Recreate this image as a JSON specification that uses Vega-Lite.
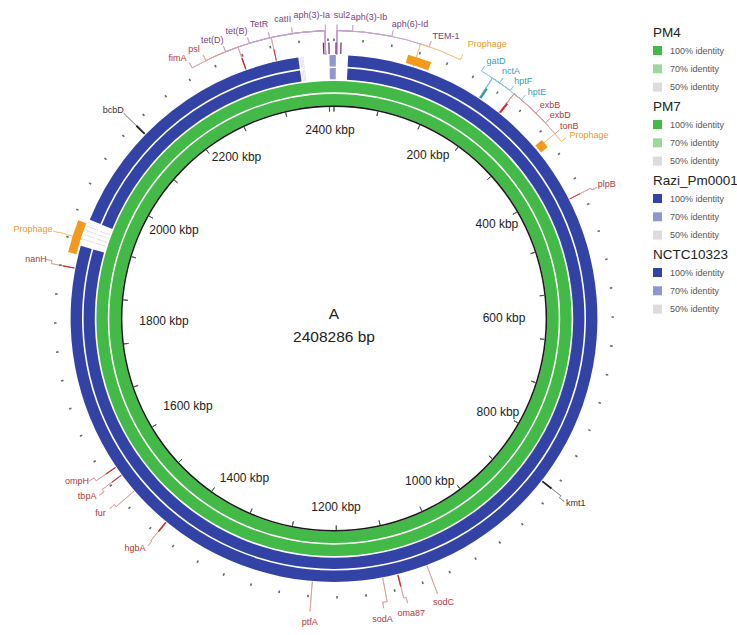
{
  "$schema": "https://vega.github.io/schema/vega-lite/v6.json",
  "width": 668,
  "height": 637,
  "autosize": "none",
  "padding": {"left": 0, "top": 0, "right": 69, "bottom": 0},
  "background": "white",
  "config": {
    "view": {"stroke": null},
    "font": "Liberation Sans",
    "legend": {
      "symbolType": "square",
      "symbolSize": 81,
      "symbolStrokeWidth": 0,
      "labelFontSize": 9,
      "labelColor": "#555555",
      "labelFont": "Liberation Sans",
      "titleFont": "Liberation Sans",
      "titleFontSize": 13.5,
      "titleFontWeight": "normal",
      "titleColor": "#222222",
      "titleBaseline": "top",
      "titleAnchor": "start",
      "titleLimit": 200,
      "titlePadding": 7,
      "rowPadding": 8.3,
      "labelOffset": 8,
      "padding": 0,
      "offset": 0
    }
  },
  "datasets": {
    "rings": [
      {"ring": "PM4", "start": 0, "end": 2408.286, "identity": "100% identity"},
      {"ring": "PM7", "start": 0, "end": 2408.286, "identity": "100% identity"},
      {"ring": "Razi_Pm0001", "start": 20.7, "end": 1913.3, "identity": "100% identity"},
      {"ring": "Razi_Pm0001", "start": 1953.4, "end": 2356.1, "identity": "100% identity"},
      {"ring": "Razi_Pm0001", "start": 2401.6, "end": 2408.286, "identity": "70% identity"},
      {"ring": "Razi_Pm0001", "start": 0, "end": 2.7, "identity": "70% identity"},
      {"ring": "Razi_Pm0001", "start": 2358.6, "end": 2359.6, "identity": "50% identity"},
      {"ring": "Razi_Pm0001", "start": 2360.6, "end": 2361.6, "identity": "50% identity"},
      {"ring": "Razi_Pm0001", "start": 2362.6, "end": 2363.6, "identity": "50% identity"},
      {"ring": "Razi_Pm0001", "start": 1923.0, "end": 1924.2, "identity": "50% identity"},
      {"ring": "Razi_Pm0001", "start": 1929.7, "end": 1930.9, "identity": "50% identity"},
      {"ring": "Razi_Pm0001", "start": 1936.3, "end": 1937.5, "identity": "50% identity"},
      {"ring": "Razi_Pm0001", "start": 1942.4, "end": 1943.6, "identity": "50% identity"},
      {"ring": "NCTC10323", "start": 20.7, "end": 1913.3, "identity": "100% identity"},
      {"ring": "NCTC10323", "start": 1953.4, "end": 2356.1, "identity": "100% identity"},
      {"ring": "NCTC10323", "start": 2401.6, "end": 2408.286, "identity": "70% identity"},
      {"ring": "NCTC10323", "start": 0, "end": 2.7, "identity": "70% identity"},
      {"ring": "NCTC10323", "start": 2358.6, "end": 2359.6, "identity": "50% identity"},
      {"ring": "NCTC10323", "start": 2360.6, "end": 2361.6, "identity": "50% identity"},
      {"ring": "NCTC10323", "start": 2362.6, "end": 2363.6, "identity": "50% identity"},
      {"ring": "NCTC10323", "start": 1923.0, "end": 1924.2, "identity": "50% identity"},
      {"ring": "NCTC10323", "start": 1929.7, "end": 1930.9, "identity": "50% identity"},
      {"ring": "NCTC10323", "start": 1936.3, "end": 1937.5, "identity": "50% identity"},
      {"ring": "NCTC10323", "start": 1942.4, "end": 1943.6, "identity": "50% identity"}
    ],
    "features": [
      {"name": "bcbD", "start": 2101.3, "end": 2103.8, "group": "other"},
      {"name": "fimA", "start": 2277.0, "end": 2279.0, "group": "vir"},
      {"name": "psl", "start": 2323.4, "end": 2324.6, "group": "vir"},
      {"name": "res1", "start": 2392.6, "end": 2394.6, "group": "res"},
      {"name": "res2", "start": 2400.3, "end": 2402.1, "group": "res"},
      {"name": "res3", "start": 1.9, "end": 3.7, "group": "res"},
      {"name": "res4", "start": 8.9, "end": 10.7, "group": "res"},
      {"name": "Prophage", "start": 105, "end": 139, "group": "phage"},
      {"name": "hpt", "start": 223.2, "end": 226.4, "group": "teal"},
      {"name": "exb", "start": 258.9, "end": 261.5, "group": "vir"},
      {"name": "Prophage", "start": 330, "end": 343, "group": "phage"},
      {"name": "plpB", "start": 421.5, "end": 422.7, "group": "vir"},
      {"name": "kmt1", "start": 855.0, "end": 857.6, "group": "other"},
      {"name": "oma87", "start": 1109.5, "end": 1111.5, "group": "vir"},
      {"name": "hgbA", "start": 1467.2, "end": 1469.6, "group": "vir"},
      {"name": "tbpA", "start": 1562.0, "end": 1563.4, "group": "vir"},
      {"name": "ompH", "start": 1576.0, "end": 1577.6, "group": "vir"},
      {"name": "nanH", "start": 1879.0, "end": 1880.6, "group": "vir"},
      {"name": "Prophage", "start": 1900.0, "end": 1946.7, "group": "phage"}
    ],
    "labels": [
      {"name": "bcbD", "group": "other", "pos": 2096.6, "a": 2102.6, "b": 2102.6},
      {"name": "fimA", "group": "vir", "pos": 2200.9, "a": 2278.0, "b": 2211.0},
      {"name": "psl", "group": "vir", "pos": 2225.0, "a": 2324.0, "b": 2231.6},
      {"name": "tet(D)", "group": "res", "pos": 2250.4, "a": 2396.2, "b": 2260.4},
      {"name": "tet(B)", "group": "res", "pos": 2283.2, "a": 2396.2, "b": 2293.9},
      {"name": "TetR", "group": "res", "pos": 2312.6, "a": 2396.2, "b": 2322.0},
      {"name": "catII", "group": "res", "pos": 2343.4, "a": 2396.2, "b": 2352.8},
      {"name": "aph(3)-Ia", "group": "res", "pos": 2380.2, "a": 2396.2, "b": 2396.9},
      {"name": "sul2", "group": "res", "pos": 10.0, "a": 4.0, "b": 4.0},
      {"name": "aph(3)-Ib", "group": "res", "pos": 44.2, "a": 4.0, "b": 24.7},
      {"name": "aph(6)-Id", "group": "res", "pos": 97.0, "a": 4.0, "b": 77.6},
      {"name": "TEM-1", "group": "res", "pos": 144.5, "a": 4.0, "b": 129.1},
      {"name": "Prophage", "group": "phage", "pos": 195.3, "a": 117, "b": 174},
      {"name": "gatD", "group": "teal", "pos": 215.4, "a": 223.4, "b": 206.0},
      {"name": "nctA", "group": "teal", "pos": 238.2, "a": 223.4, "b": 234.8},
      {"name": "hptF", "group": "teal", "pos": 257.6, "a": 223.4, "b": 252.2},
      {"name": "hptE", "group": "teal", "pos": 280.3, "a": 223.4, "b": 271.6},
      {"name": "exbB", "group": "vir", "pos": 303.0, "a": 258.9, "b": 297.7},
      {"name": "exbD", "group": "vir", "pos": 321.8, "a": 258.9, "b": 315.8},
      {"name": "tonB", "group": "vir", "pos": 339.2, "a": 258.9, "b": 335.2},
      {"name": "Prophage", "group": "phage", "pos": 363.2, "a": 335, "b": 348.5},
      {"name": "plpB", "group": "vir", "pos": 426.8, "a": 422.1, "b": 424.8},
      {"name": "kmt1", "group": "other", "pos": 851.6, "a": 856.3, "b": 859.6},
      {"name": "sodC", "group": "vir", "pos": 1063.0, "a": 1066.3, "b": 1066.3},
      {"name": "oma87", "group": "vir", "pos": 1105.8, "a": 1110.5, "b": 1107.2},
      {"name": "sodA", "group": "vir", "pos": 1142.6, "a": 1133.0, "b": 1139.0},
      {"name": "ptfA", "group": "vir", "pos": 1234.9, "a": 1235.6, "b": 1235.6},
      {"name": "hgbA", "group": "vir", "pos": 1477.8, "a": 1468.4, "b": 1467.0},
      {"name": "fur", "group": "vir", "pos": 1540.0, "a": 1533.2, "b": 1536.6},
      {"name": "tbpA", "group": "vir", "pos": 1567.4, "a": 1562.7, "b": 1558.7},
      {"name": "ompH", "group": "vir", "pos": 1590.1, "a": 1576.8, "b": 1581.5},
      {"name": "nanH", "group": "vir", "pos": 1881.8, "a": 1879.8, "b": 1883.8},
      {"name": "Prophage", "group": "phage", "pos": 1916.6, "a": 1923.0, "b": 1922.0}
    ],
    "outerTicks": [
      {"kbp": 0}, {"kbp": 40}, {"kbp": 80}, {"kbp": 120}, {"kbp": 160}, {"kbp": 200}, {"kbp": 240}, {"kbp": 280}, {"kbp": 320}, {"kbp": 360},
      {"kbp": 400}, {"kbp": 440}, {"kbp": 480}, {"kbp": 520}, {"kbp": 560}, {"kbp": 600}, {"kbp": 640}, {"kbp": 680}, {"kbp": 720}, {"kbp": 760},
      {"kbp": 800}, {"kbp": 840}, {"kbp": 880}, {"kbp": 920}, {"kbp": 960}, {"kbp": 1000}, {"kbp": 1040}, {"kbp": 1080}, {"kbp": 1120}, {"kbp": 1160},
      {"kbp": 1200}, {"kbp": 1240}, {"kbp": 1280}, {"kbp": 1320}, {"kbp": 1360}, {"kbp": 1400}, {"kbp": 1440}, {"kbp": 1480}, {"kbp": 1520}, {"kbp": 1560},
      {"kbp": 1600}, {"kbp": 1640}, {"kbp": 1680}, {"kbp": 1720}, {"kbp": 1760}, {"kbp": 1800}, {"kbp": 1840}, {"kbp": 1880}, {"kbp": 1920}, {"kbp": 1960},
      {"kbp": 2000}, {"kbp": 2040}, {"kbp": 2080}, {"kbp": 2120}, {"kbp": 2160}, {"kbp": 2200}, {"kbp": 2240}, {"kbp": 2280}, {"kbp": 2320}, {"kbp": 2360},
      {"kbp": 2400}
    ],
    "innerTicks": [
      {"kbp": 0}, {"kbp": 80}, {"kbp": 160}, {"kbp": 240}, {"kbp": 320}, {"kbp": 400}, {"kbp": 480}, {"kbp": 560}, {"kbp": 640}, {"kbp": 720},
      {"kbp": 800}, {"kbp": 880}, {"kbp": 960}, {"kbp": 1040}, {"kbp": 1120}, {"kbp": 1200}, {"kbp": 1280}, {"kbp": 1360}, {"kbp": 1440}, {"kbp": 1520},
      {"kbp": 1600}, {"kbp": 1680}, {"kbp": 1760}, {"kbp": 1840}, {"kbp": 1920}, {"kbp": 2000}, {"kbp": 2080}, {"kbp": 2160}, {"kbp": 2240}, {"kbp": 2320},
      {"kbp": 2400}
    ],
    "tickLabels": [
      {"kbp": 200, "label": "200 kbp"}, {"kbp": 400, "label": "400 kbp"}, {"kbp": 600, "label": "600 kbp"},
      {"kbp": 800, "label": "800 kbp"}, {"kbp": 1000, "label": "1000 kbp"}, {"kbp": 1200, "label": "1200 kbp"},
      {"kbp": 1400, "label": "1400 kbp"}, {"kbp": 1600, "label": "1600 kbp"}, {"kbp": 1800, "label": "1800 kbp"},
      {"kbp": 2000, "label": "2000 kbp"}, {"kbp": 2200, "label": "2200 kbp"}, {"kbp": 2400, "label": "2400 kbp"}
    ],
    "center": [
      {"line": "A"},
      {"line": "2408286 bp"}
    ]
  },
  "layer": [
    {
      "data": {"name": "labels"},
      "mark": {"type": "arc", "filled": false, "strokeWidth": 0.8, "radius": 288, "radius2": 264},
      "encoding": {
        "theta": {"field": "a", "type": "quantitative", "scale": {"domain": [0, 2408.286], "range": [0, 6.283185307], "nice": false, "zero": false}},
        "theta2": {"field": "a"},
        "color": {"field": "group", "type": "nominal", "legend": null, "scale": {"domain": ["res", "vir", "teal", "phage", "other"], "range": ["#c4a3c8", "#d4a0a0", "#8cc8d2", "#f2c27a", "#8a8a8a"]}}
      }
    },
    {
      "data": {"name": "labels"},
      "mark": {"type": "arc", "filled": false, "strokeWidth": 0.8, "radius": 288, "radius2": 288},
      "encoding": {
        "theta": {"field": "a", "type": "quantitative", "scale": {"domain": [0, 2408.286], "range": [0, 6.283185307], "nice": false, "zero": false}},
        "theta2": {"field": "b"},
        "color": {"field": "group", "type": "nominal", "legend": null, "scale": {"domain": ["res", "vir", "teal", "phage", "other"], "range": ["#c4a3c8", "#d4a0a0", "#8cc8d2", "#f2c27a", "#8a8a8a"]}}
      }
    },
    {
      "data": {"name": "labels"},
      "mark": {"type": "arc", "filled": false, "strokeWidth": 0.8, "radius": 294, "radius2": 288},
      "encoding": {
        "theta": {"field": "b", "type": "quantitative", "scale": {"domain": [0, 2408.286], "range": [0, 6.283185307], "nice": false, "zero": false}},
        "theta2": {"field": "b"},
        "color": {"field": "group", "type": "nominal", "legend": null, "scale": {"domain": ["res", "vir", "teal", "phage", "other"], "range": ["#c4a3c8", "#d4a0a0", "#8cc8d2", "#f2c27a", "#8a8a8a"]}}
      }
    },
    {
      "data": {"name": "outerTicks"},
      "mark": {"type": "arc", "filled": false, "color": "#666666", "strokeWidth": 1.6, "radius": 280, "radius2": 277.5},
      "encoding": {
        "theta": {"field": "kbp", "type": "quantitative", "scale": {"domain": [0, 2408.286], "range": [0, 6.283185307], "nice": false, "zero": false}},
        "theta2": {"field": "kbp"}
      }
    },
    {
      "data": {"name": "rings"},
      "transform": [{"filter": "datum.ring == 'PM4'"}],
      "mark": {"type": "arc", "radius": 224.6, "radius2": 213.2},
      "encoding": {
        "theta": {"field": "start", "type": "quantitative", "scale": {"domain": [0, 2408.286], "range": [0, 6.283185307], "nice": false, "zero": false}},
        "theta2": {"field": "end"},
        "color": {"field": "identity", "type": "nominal", "scale": {"domain": ["100% identity", "70% identity", "50% identity"], "range": ["#43b947", "#9bd89b", "#dcdcdc"]}, "legend": {"title": "PM4", "orient": "none", "legendX": 653, "legendY": 25.5}}
      }
    },
    {
      "data": {"name": "rings"},
      "transform": [{"filter": "datum.ring == 'PM7'"}],
      "mark": {"type": "arc", "radius": 237.6, "radius2": 226.2},
      "encoding": {
        "theta": {"field": "start", "type": "quantitative", "scale": {"domain": [0, 2408.286], "range": [0, 6.283185307], "nice": false, "zero": false}},
        "theta2": {"field": "end"},
        "color": {"field": "identity", "type": "nominal", "scale": {"domain": ["100% identity", "70% identity", "50% identity"], "range": ["#43b947", "#9bd89b", "#dcdcdc"]}, "legend": {"title": "PM7", "orient": "none", "legendX": 653, "legendY": 99.5}}
      }
    },
    {
      "data": {"name": "rings"},
      "transform": [{"filter": "datum.ring == 'Razi_Pm0001'"}],
      "mark": {"type": "arc", "radius": 250.4, "radius2": 239.2},
      "encoding": {
        "theta": {"field": "start", "type": "quantitative", "scale": {"domain": [0, 2408.286], "range": [0, 6.283185307], "nice": false, "zero": false}},
        "theta2": {"field": "end"},
        "color": {"field": "identity", "type": "nominal", "scale": {"domain": ["100% identity", "70% identity", "50% identity"], "range": ["#3343a5", "#8f97cf", "#dcdcdc"]}, "legend": {"title": "Razi_Pm0001", "orient": "none", "legendX": 653, "legendY": 173.5}}
      }
    },
    {
      "data": {"name": "rings"},
      "transform": [{"filter": "datum.ring == 'NCTC10323'"}],
      "mark": {"type": "arc", "radius": 263.4, "radius2": 252},
      "encoding": {
        "theta": {"field": "start", "type": "quantitative", "scale": {"domain": [0, 2408.286], "range": [0, 6.283185307], "nice": false, "zero": false}},
        "theta2": {"field": "end"},
        "color": {"field": "identity", "type": "nominal", "scale": {"domain": ["100% identity", "70% identity", "50% identity"], "range": ["#3343a5", "#8f97cf", "#dcdcdc"]}, "legend": {"title": "NCTC10323", "orient": "none", "legendX": 653, "legendY": 247.5}}
      }
    },
    {
      "data": {"name": "rings"},
      "transform": [{"filter": "datum.ring == 'PM4'"}],
      "mark": {"type": "arc", "radius": 213.2, "radius2": 211.6, "color": "#1a1a1a"},
      "encoding": {
        "theta": {"field": "start", "type": "quantitative", "scale": {"domain": [0, 2408.286], "range": [0, 6.283185307], "nice": false, "zero": false}},
        "theta2": {"field": "end"}
      }
    },
    {
      "data": {"name": "innerTicks"},
      "mark": {"type": "arc", "filled": false, "color": "#555555", "strokeWidth": 1, "radius": 211.5, "radius2": 207},
      "encoding": {
        "theta": {"field": "kbp", "type": "quantitative", "scale": {"domain": [0, 2408.286], "range": [0, 6.283185307], "nice": false, "zero": false}},
        "theta2": {"field": "kbp"}
      }
    },
    {
      "data": {"name": "features"},
      "transform": [{"filter": "datum.group != 'phage'"}],
      "mark": {"type": "arc", "radius": 276, "radius2": 264.5},
      "encoding": {
        "theta": {"field": "start", "type": "quantitative", "scale": {"domain": [0, 2408.286], "range": [0, 6.283185307], "nice": false, "zero": false}},
        "theta2": {"field": "end"},
        "color": {"field": "group", "type": "nominal", "legend": null, "scale": {"domain": ["res", "vir", "teal", "phage", "other"], "range": ["#7d2f7a", "#cf2b2b", "#2a9d9d", "#f39a1e", "#222222"]}}
      }
    },
    {
      "data": {"name": "features"},
      "transform": [{"filter": "datum.group == 'phage'"}],
      "mark": {"type": "arc", "radius": 274, "radius2": 265.5},
      "encoding": {
        "theta": {"field": "start", "type": "quantitative", "scale": {"domain": [0, 2408.286], "range": [0, 6.283185307], "nice": false, "zero": false}},
        "theta2": {"field": "end"},
        "color": {"field": "group", "type": "nominal", "legend": null, "scale": {"domain": ["res", "vir", "teal", "phage", "other"], "range": ["#7d2f7a", "#cf2b2b", "#2a9d9d", "#f39a1e", "#222222"]}}
      }
    },
    {
      "data": {"name": "labels"},
      "transform": [{"filter": "datum.name != 'Prophage'"}],
      "mark": {"type": "text", "radius": 304, "fontSize": 9, "align": "center", "baseline": "middle"},
      "encoding": {
        "theta": {"field": "pos", "type": "quantitative", "scale": {"domain": [0, 2408.286], "range": [0, 6.283185307], "nice": false, "zero": false}},
        "text": {"field": "name"},
        "color": {"field": "group", "type": "nominal", "legend": null, "scale": {"domain": ["res", "vir", "teal", "phage", "other"], "range": ["#7b3f80", "#b23838", "#3d9db2", "#e99b2c", "#333333"]}}
      }
    },
    {
      "data": {"name": "labels"},
      "transform": [{"filter": "datum.name == 'Prophage'"}],
      "mark": {"type": "text", "radius": 314, "fontSize": 9, "align": "center", "baseline": "middle"},
      "encoding": {
        "theta": {"field": "pos", "type": "quantitative", "scale": {"domain": [0, 2408.286], "range": [0, 6.283185307], "nice": false, "zero": false}},
        "text": {"field": "name"},
        "color": {"field": "group", "type": "nominal", "legend": null, "scale": {"domain": ["res", "vir", "teal", "phage", "other"], "range": ["#7b3f80", "#b23838", "#3d9db2", "#e99b2c", "#333333"]}}
      }
    },
    {
      "data": {"name": "tickLabels"},
      "transform": [{"filter": {"field": "kbp", "oneOf": [200, 400, 800, 1000, 1200, 2200, 2400]}}],
      "mark": {"type": "text", "radius": 188.5, "fontSize": 12, "color": "#222222", "align": "center", "baseline": "middle"},
      "encoding": {
        "theta": {"field": "kbp", "type": "quantitative", "scale": {"domain": [0, 2408.286], "range": [0, 6.283185307], "nice": false, "zero": false}},
        "text": {"field": "label"}
      }
    },
    {
      "data": {"name": "tickLabels"},
      "transform": [{"filter": {"field": "kbp", "oneOf": [1400, 2000]}}],
      "mark": {"type": "text", "radius": 183, "fontSize": 12, "color": "#222222", "align": "center", "baseline": "middle"},
      "encoding": {
        "theta": {"field": "kbp", "type": "quantitative", "scale": {"domain": [0, 2408.286], "range": [0, 6.283185307], "nice": false, "zero": false}},
        "text": {"field": "label"}
      }
    },
    {
      "data": {"name": "tickLabels"},
      "transform": [{"filter": {"field": "kbp", "oneOf": [600, 1600, 1800]}}],
      "mark": {"type": "text", "radius": 170, "fontSize": 12, "color": "#222222", "align": "center", "baseline": "middle"},
      "encoding": {
        "theta": {"field": "kbp", "type": "quantitative", "scale": {"domain": [0, 2408.286], "range": [0, 6.283185307], "nice": false, "zero": false}},
        "text": {"field": "label"}
      }
    },
    {
      "data": {"name": "center"},
      "transform": [{"filter": "datum.line == 'A'"}],
      "mark": {"type": "text", "fontSize": 15.5, "color": "#222222", "align": "center", "baseline": "middle", "dy": -4.5},
      "encoding": {"text": {"field": "line"}}
    },
    {
      "data": {"name": "center"},
      "transform": [{"filter": "datum.line != 'A'"}],
      "mark": {"type": "text", "fontSize": 15.5, "color": "#222222", "align": "center", "baseline": "middle", "dy": 18.5},
      "encoding": {"text": {"field": "line"}}
    }
  ],
  "resolve": {"scale": {"color": "independent"}}
}
